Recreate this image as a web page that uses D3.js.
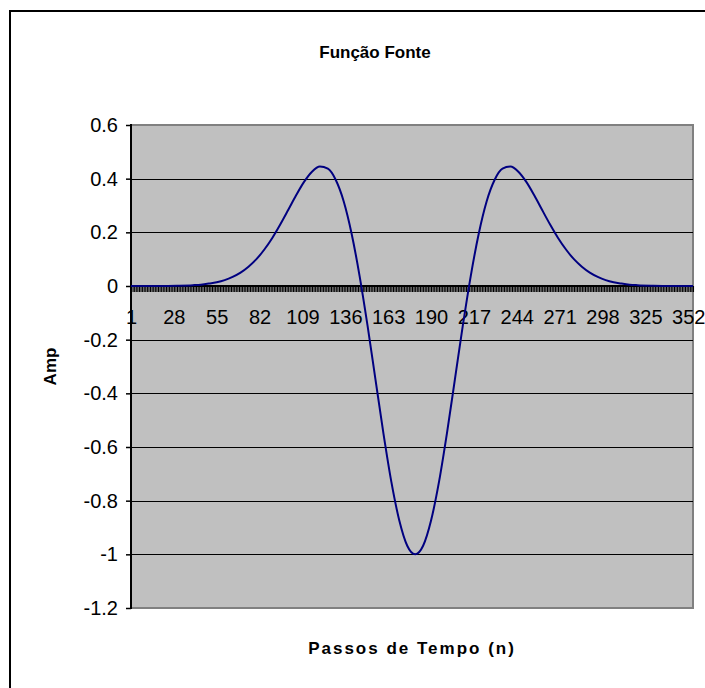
<!DOCTYPE html>
<html>
<head>
<meta charset="utf-8">
<script src="https://cdn.jsdelivr.net/npm/d3@7"></script>
<style>
  html, body { margin: 0; padding: 0; background: #fff; }
  svg { display: block; }
  text { font-family: "Liberation Sans", Arial, sans-serif; fill: #000; }
</style>
</head>
<body>
<svg id="chart" width="705" height="688"></svg>
<script>
// Source function (negative Ricker pulse) sampled over the time steps
const stepN = [1, 10, 20, 30, 40, 45, 50, 55, 60, 65, 70, 75, 80, 85, 90, 95, 100,
  105, 110, 115, 120, 125, 130, 135, 140, 145, 150, 155, 160, 165, 170, 175, 180,
  185, 190, 195, 200, 205, 210, 215, 220, 225, 230, 235, 240, 245, 250, 255, 260,
  265, 270, 275, 280, 285, 290, 295, 300, 305, 310, 315, 320, 330, 340, 355];
const amp = [0, 0, 0, 0.001, 0.003, 0.005, 0.009, 0.014, 0.022, 0.034, 0.050, 0.072,
  0.100, 0.136, 0.179, 0.229, 0.283, 0.338, 0.388, 0.426, 0.445, 0.437, 0.395, 0.315,
  0.194, 0.037, -0.148, -0.349, -0.549, -0.730, -0.874, -0.968, -1.000, -0.968, -0.874,
  -0.730, -0.549, -0.349, -0.148, 0.037, 0.194, 0.315, 0.395, 0.437, 0.445, 0.426,
  0.388, 0.338, 0.283, 0.229, 0.179, 0.136, 0.100, 0.072, 0.050, 0.034, 0.022, 0.014,
  0.009, 0.005, 0.003, 0.001, 0, 0];

// Category axis: one category per time step, labelled every 27 steps
const stepCount = 355;
const categories = d3.range(1, stepCount + 1);
const categoryLabels = [1, 28, 55, 82, 109, 136, 163, 190, 217, 244, 271, 298, 325, 352];

// Value axis
const yTicks = [-1.2, -1, -0.8, -0.6, -0.4, -0.2, 0, 0.2, 0.4, 0.6];

const titleText = "Função Fonte";
const xTitle = "Passos de Tempo (n)";
const yTitle = "Amp";

const svg = d3.select("#chart");
const plot = { left: 131, top: 125, right: 693, bottom: 608 };

const x = d3.scaleLinear().domain([1, stepCount]).range([plot.left, plot.right]);
const y = d3.scaleLinear().domain([-1.2, 0.6]).range([plot.bottom, plot.top]);

// chart area frame
svg.append("rect")
  .attr("x", 10).attr("y", 11).attr("width", 760).attr("height", 760)
  .attr("fill", "#fff").attr("stroke", "#000").attr("stroke-width", 2);

// plot area
svg.append("rect")
  .attr("x", plot.left).attr("y", plot.top)
  .attr("width", plot.right - plot.left).attr("height", plot.bottom - plot.top)
  .attr("fill", "#c0c0c0").attr("stroke", "#808080").attr("stroke-width", 2);

// horizontal gridlines
svg.append("g").selectAll("line")
  .data(yTicks.filter(v => v > -1.2 && v < 0.6 && v !== 0))
  .join("line")
  .attr("x1", plot.left).attr("x2", plot.right)
  .attr("y1", d => Math.round(y(d)) + 0.5).attr("y2", d => Math.round(y(d)) + 0.5)
  .attr("stroke", "#000").attr("stroke-width", 1);

// value axis
const fmt = v => String(+v.toFixed(1));
const yAxis = svg.append("g")
  .attr("transform", `translate(${plot.left},0)`)
  .call(d3.axisLeft(y).tickValues(yTicks).tickSize(5).tickPadding(8).tickFormat(fmt));
yAxis.select(".domain").remove();
yAxis.selectAll(".tick line").attr("stroke", "#000").attr("stroke-width", 1.5);
yAxis.selectAll(".tick text")
  .style("font-size", "20px").attr("fill", "#000")
  .attr("font-family", "Liberation Sans, Arial, sans-serif");
svg.append("line")
  .attr("x1", plot.left).attr("x2", plot.left)
  .attr("y1", plot.top - 1).attr("y2", plot.bottom + 1)
  .attr("stroke", "#000").attr("stroke-width", 2);

// category axis crossing at zero
const y0 = y(0);
const xAxis = svg.append("g")
  .attr("transform", `translate(0,${y0})`)
  .call(d3.axisBottom(x).tickValues(categories).tickSize(6).tickPadding(18)
    .tickFormat(d => categoryLabels.includes(d) ? String(d) : ""));
xAxis.select(".domain").remove();
xAxis.selectAll(".tick line").attr("stroke", "#000").attr("stroke-width", 1.1);
xAxis.selectAll(".tick text")
  .style("font-size", "20px").attr("fill", "#000")
  .attr("font-family", "Liberation Sans, Arial, sans-serif");
svg.append("line")
  .attr("x1", plot.left).attr("x2", plot.right)
  .attr("y1", y0).attr("y2", y0)
  .attr("stroke", "#000").attr("stroke-width", 2);

// data series
const line = d3.line()
  .x((d, i) => x(stepN[i]))
  .y(d => y(d))
  .curve(d3.curveMonotoneX);
svg.append("path")
  .datum(amp)
  .attr("d", line)
  .attr("fill", "none")
  .attr("stroke", "#000080")
  .attr("stroke-width", 2);

// titles
svg.append("text")
  .attr("x", 375).attr("y", 58)
  .attr("text-anchor", "middle")
  .style("font-size", "17px").style("font-weight", "bold")
  .text(titleText);

svg.append("text")
  .attr("x", (plot.left + plot.right) / 2).attr("y", 654)
  .attr("text-anchor", "middle")
  .style("font-size", "17px").style("font-weight", "bold")
  .style("letter-spacing", "2px")
  .text(xTitle);

svg.append("text")
  .attr("transform", `translate(56,${(plot.top + plot.bottom) / 2}) rotate(-90)`)
  .attr("text-anchor", "middle")
  .style("font-size", "17px").style("font-weight", "bold")
  .text(yTitle);
</script>
</body>
</html>
